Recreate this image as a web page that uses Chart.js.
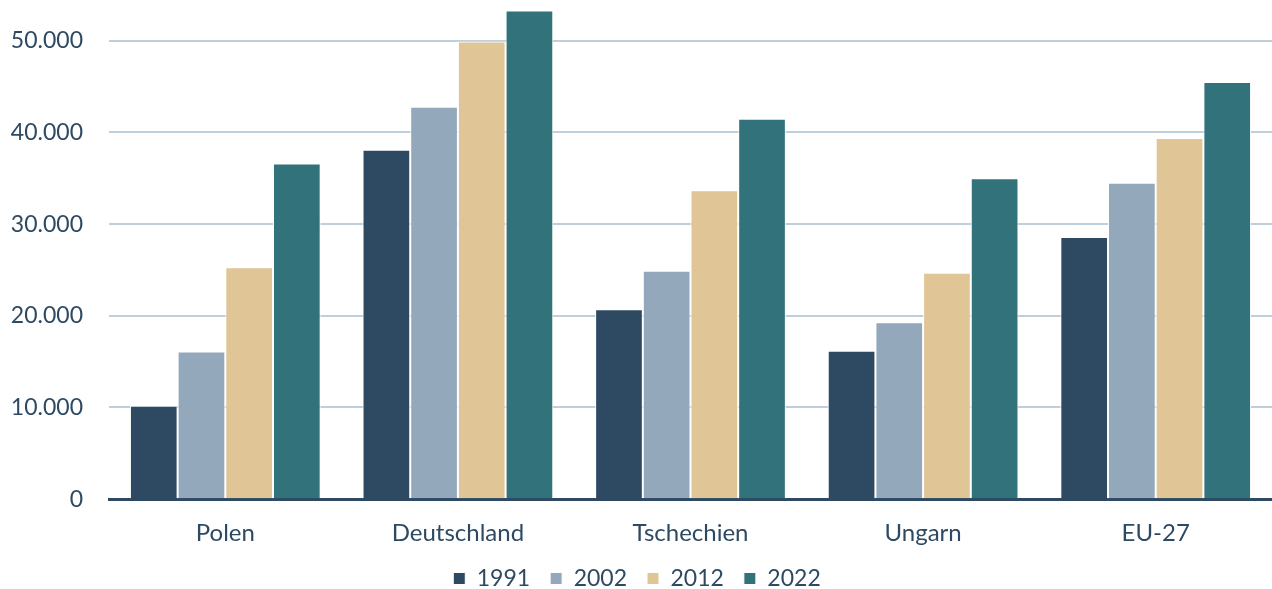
<!DOCTYPE html>
<html>
<head>
<meta charset="utf-8">
<script src="https://cdn.jsdelivr.net/npm/chart.js@4/dist/chart.umd.min.js"></script>
<style>
    html, body { margin: 0; padding: 0; background: #fff; }
    #wrap { width: 1272px; height: 589px; }
</style>
</head>
<body>
<div id="wrap"><canvas id="chart"></canvas></div>
<script>
    const countries = ['Polen', 'Deutschland', 'Tschechien', 'Ungarn', 'EU-27'];
    const years = ['1991', '2002', '2012', '2022'];
    const values1991 = [10200, 38100, 20700, 16200, 28600];
    const values2002 = [16100, 42800, 24900, 19300, 34500];
    const values2012 = [25300, 49900, 33700, 24700, 39400];
    const values2022 = [36600, 53300, 41500, 35000, 45500];
    const yTicks = [0, 10000, 20000, 30000, 40000, 50000];

    const colors = ['#2e4a63', '#94a8bc', '#e0c596', '#32727b'];
    const textColor = '#2e4a63';

    function fmt(v) {
        return String(v).replace(/\B(?=(\d{3})+(?!\d))/g, '.');
    }

    const series = [values1991, values2002, values2012, values2022];
    const datasets = series.map((data, i) => ({
        label: years[i],
        data: data,
        backgroundColor: colors[i],
        borderColor: '#ffffff',
        borderWidth: 1,
        categoryPercentage: 0.82,
        barPercentage: 1
    }));

    new Chart(document.getElementById('chart').getContext('2d'), {
        type: 'bar',
        data: { labels: countries, datasets: datasets },
        options: {
            responsive: true,
            maintainAspectRatio: false,
            animation: false,
            // chart area runs slightly past the right edge, as in the original crop
            layout: { padding: { top: 4, right: -2, left: 0, bottom: -11 } },
            scales: {
                x: {
                    grid: { display: false, drawTicks: false },
                    border: { color: '#2e4a63', width: 3 },
                    ticks: { color: textColor, font: { family: 'Lato', size: 24 }, padding: 20 },
                    afterFit: scale => { scale.height = scale.height - 21; }
                },
                y: {
                    min: 0,
                    max: 54000,
                    afterBuildTicks: axis => { axis.ticks = yTicks.map(v => ({ value: v })); },
                    afterFit: scale => {
                        scale.width = 109;
                        scale.paddingTop = 0;
                        scale.paddingBottom = 0;
                    },
                    grid: { color: '#bfcedb', lineWidth: 2, drawTicks: false },
                    border: { display: false },
                    ticks: {
                        color: textColor,
                        font: { family: 'Lato', size: 23 },
                        padding: 26,
                        callback: v => fmt(v)
                    }
                }
            },
            plugins: {
                legend: {
                    position: 'bottom',
                    labels: {
                        color: textColor,
                        font: { family: 'Lato', size: 23 },
                        boxWidth: 12,
                        boxHeight: 12,
                        padding: 20
                    }
                },
                tooltip: { enabled: false }
            }
        }
    });
</script>
</body>
</html>
